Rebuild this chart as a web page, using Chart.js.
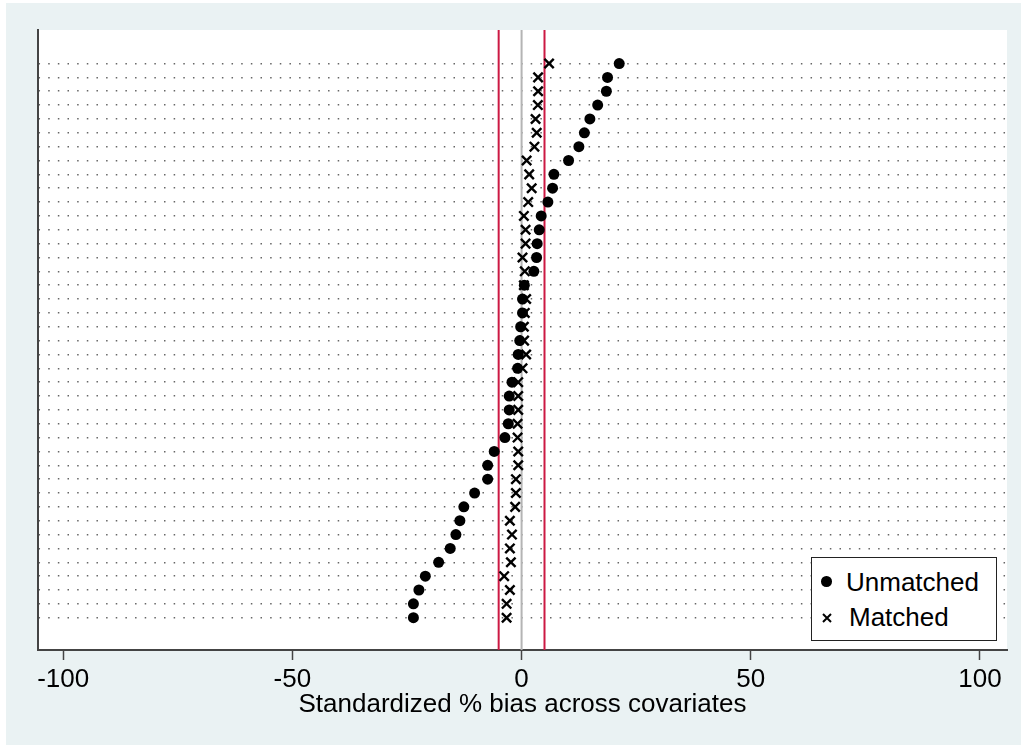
<!DOCTYPE html>
<html>
<head>
<meta charset="utf-8">
<script src="https://cdn.jsdelivr.net/npm/chart.js@4"></script>
<style>
  html, body { margin: 0; padding: 0; background: #fff; }
  #wrap { position: relative; width: 1021px; height: 746px; }
  #legend { position: absolute; left: 811px; top: 557px; width: 184px; height: 82px;
            border: 1px solid #222; background: #fff;
            font-family: 'Liberation Sans', Arial, sans-serif; font-size: 26px; color: #000; }
  #legend span { position: absolute; line-height: 30px; white-space: nowrap; }
  #legend .dot { position: absolute; width: 10.6px; height: 10.6px; border-radius: 50%; background: #000; }
  #legend svg { position: absolute; }
</style>
</head>
<body>
<div id="wrap">
  <canvas id="c" width="1021" height="746"></canvas>
  <div id="legend">
    <div class="dot" style="left:9.4px;top:18.4px"></div>
    <span style="left:34px;top:9px">Unmatched</span>
    <svg style="left:9.5px;top:55px" width="10" height="10" viewBox="0 0 10 10">
      <path d="M1,1 L9,9 M9,1 L1,9" stroke="#000" stroke-width="2" fill="none"/>
    </svg>
    <span style="left:37px;top:44px">Matched</span>
  </div>
</div>
<script>
// ---- data (rows listed from top to bottom of the plot) ----
const unmatched = [21.3, 18.75, 18.5, 16.6, 14.9, 13.7, 12.5, 10.25, 7.05, 6.76,
  5.74, 4.28, 3.85, 3.4, 3.27, 2.68, 0.6, 0.2, 0.2, -0.2,
  -0.4, -0.73, -0.87, -2.1, -2.7, -2.7, -2.9, -3.64, -5.97, -7.4,
  -7.4, -10.25, -12.6, -13.46, -14.33, -15.57, -18.1, -21.0, -22.4, -23.6, -23.6];
const matched = [6.0, 3.6, 3.6, 3.55, 3.05, 3.3, 2.8, 1.1, 1.66, 2.2,
  1.45, 0.5, 0.87, 0.87, 0.2, 0.7, 0.5, 1.0, 0.7, 0.5,
  0.55, 1.0, 0.2, -0.73, -0.73, -0.73, -0.87, -0.87, -0.73, -0.73,
  -1.24, -1.24, -1.4, -2.55, -2.1, -2.55, -2.33, -3.8, -2.55, -3.27, -3.27];
const xTicks = [-100, -50, 0, 50, 100];
const zeroLine = [0];
const thresholdLines = [-5, 5];
const xTitle = 'Standardized % bias across covariates';
const legendLabels = ['Unmatched', 'Matched'];

// ---- layout constants ----
const FONT = "'Liberation Sans', Arial, sans-serif";
const Y_MIN = -1.331, Y_MAX = 43.42;
const nRows = unmatched.length;
const rowPos = unmatched.map((_, i) => nRows - i);

const ptsU = unmatched.map((v, i) => ({ x: v, y: rowPos[i] }));
const ptsM = matched.map((v, i) => ({ x: v, y: rowPos[i] }));
const vline = v => [{ x: v, y: Y_MIN }, { x: v, y: Y_MAX }];

const bgPlugin = {
  id: 'bg',
  beforeDraw(chart) {
    const { ctx, chartArea: a } = chart;
    ctx.save();
    ctx.fillStyle = '#ffffff';
    ctx.fillRect(0, 0, chart.width, chart.height);
    ctx.fillStyle = '#eaf2f3';
    ctx.fillRect(6, 3, chart.width - 6, chart.height - 4);
    ctx.fillStyle = '#ffffff';
    ctx.fillRect(a.left, a.top, a.right - a.left, a.bottom - a.top);
    ctx.restore();
  }
};

const datasets = [];
thresholdLines.forEach(v => datasets.push({
  data: vline(v), showLine: true, pointRadius: 0, borderColor: '#cc1943',
  borderWidth: 2, order: 5
}));
zeroLine.forEach(v => datasets.push({
  data: vline(v), showLine: true, pointRadius: 0, borderColor: '#b4b4b4',
  borderWidth: 2, order: 6
}));
datasets.push({
  label: legendLabels[0], data: ptsU, pointStyle: 'circle', pointRadius: 5.5,
  backgroundColor: '#000', borderWidth: 0, order: 2
});
datasets.push({
  label: legendLabels[1], data: ptsM, pointStyle: 'crossRot', pointRadius: 6.6,
  borderColor: '#000', backgroundColor: '#000', borderWidth: 2.4, order: 1
});

new Chart(document.getElementById('c'), {
  type: 'scatter',
  data: { datasets },
  options: {
    responsive: false,
    animation: false,
    devicePixelRatio: 1,
    layout: { padding: { left: 38, top: 30, right: 14, bottom: 0 } },
    plugins: { legend: { display: false }, tooltip: { enabled: false } },
    elements: { point: { hoverRadius: 0 } },
    scales: {
      x: {
        type: 'linear', position: 'bottom', min: -105.5, max: 105.9,
        afterBuildTicks: s => { s.ticks = xTicks.map(v => ({ value: v })); },
        afterFit: s => { s.height = 96; },
        ticks: { font: { family: FONT, size: 26 }, color: '#000', padding: 4,
                 maxRotation: 0, autoSkip: false },
        grid: { drawOnChartArea: false, drawTicks: true, tickLength: 10,
                tickColor: '#444', tickWidth: 1.5 },
        border: { display: true, color: '#444', width: 2 },
        title: { display: true, text: xTitle, color: '#000',
                 font: { family: FONT, size: 26 }, padding: { top: 0, bottom: 26 } }
      },
      y: {
        type: 'linear', position: 'left', min: Y_MIN, max: Y_MAX,
        afterBuildTicks: s => { s.ticks = rowPos.map(v => ({ value: v })); },
        afterFit: s => { s.width = 0; },
        ticks: { display: false },
        grid: { drawTicks: false, color: '#666', lineWidth: 1.5 },
        border: { display: true, color: '#444', width: 2, dash: [1.5, 8.15], dashOffset: 0.45 }
      }
    }
  },
  plugins: [bgPlugin]
});
</script>
</body>
</html>
